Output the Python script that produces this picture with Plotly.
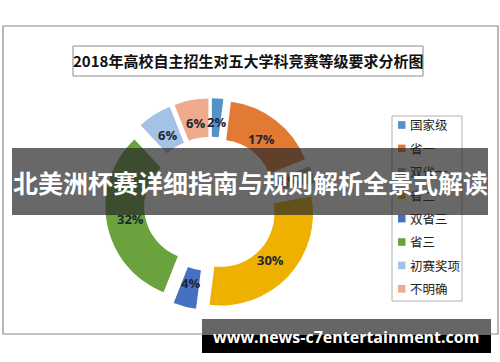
import math
import plotly.graph_objects as go

# ---- data ----
title_text = "2018年高校自主招生对五大学科竞赛等级要求分析图"
labels = ["国家级", "省一", "双省一", "省二", "双省三", "省三", "初赛奖项", "不明确"]
values = [2, 17, 3, 30, 4, 32, 6, 6]
colors = ["#5592c6", "#e37a33", "#a5a5a5", "#eeb100", "#4670c0", "#6aa33e", "#a4c2e6", "#f0aa8e"]
banner_text = "北美洲杯赛详细指南与规则解析全景式解读"
watermark_text = "www.news-c7entertainment.com"

W, H = 500, 362

def px(x):
    return x / W

def py(y):
    return 1 - y / H

# ---- layout constants (pixels) ----
cx, cy = 211, 204
r_out = 92
pull = 0.15
hole = 0.58
ext = r_out * (1 + pull)
label_r = 82

fig = go.Figure()
fig.add_trace(go.Pie(
    labels=labels, values=values, hole=hole, pull=pull, sort=False,
    direction="clockwise", rotation=0,
    marker=dict(colors=colors, line=dict(width=0)),
    textinfo="none", hoverinfo="label+percent", showlegend=False,
    domain=dict(x=[px(cx - ext), px(cx + ext)], y=[py(cy + ext), py(cy - ext)]),
))

shapes = []
annotations = []

# outer chart frame
shapes.append(dict(type="rect", xref="paper", yref="paper", x0=px(3), x1=px(498), y0=py(334), y1=py(26),
                   line=dict(color="#8a8a8a", width=1.2), fillcolor="rgba(0,0,0,0)", layer="below"))
# title box
shapes.append(dict(type="rect", xref="paper", yref="paper", x0=px(73), x1=px(423), y0=py(76), y1=py(46),
                   line=dict(color="#8a8a8a", width=1), fillcolor="white", layer="below"))
annotations.append(dict(text="<b>" + title_text + "</b>", x=px(248), y=py(61), xref="paper", yref="paper",
                        showarrow=False, font=dict(size=15, color="#111", family="Noto Sans CJK SC"),
                        xanchor="center", yanchor="middle"))

# percentage labels computed from data
total = sum(values)
cum = 0
for v in values:
    mid = (cum + v / 2) / total * 2 * math.pi
    cum += v
    d = label_r
    lx = cx + d * math.sin(mid)
    ly = cy - d * math.cos(mid)
    annotations.append(dict(text="<b>%d%%</b>" % round(v / total * 100), x=px(lx), y=py(ly),
                            xref="paper", yref="paper", showarrow=False,
                            font=dict(size=13, color="#1d2633", family="Open Sans"),
                            xanchor="center", yanchor="middle"))

# legend (manual)
shapes.append(dict(type="rect", xref="paper", yref="paper", x0=px(392), x1=px(462), y0=py(301), y1=py(116),
                   line=dict(color="#b0b0b0", width=1), fillcolor="white", layer="below"))
leg_y0, leg_dy = 125, 23.4
for i, (lab, col) in enumerate(zip(labels, colors)):
    yy = leg_y0 + i * leg_dy
    shapes.append(dict(type="rect", xref="paper", yref="paper", x0=px(398), x1=px(405.5),
                       y0=py(yy + 3.8), y1=py(yy - 3.8), line=dict(width=0), fillcolor=col))
    annotations.append(dict(text=lab, x=px(408), y=py(yy), xref="paper", yref="paper", showarrow=False,
                            font=dict(size=12.5, color="#222", family="Noto Sans CJK SC"),
                            xanchor="left", yanchor="middle"))

# banner overlay
shapes.append(dict(type="rect", xref="paper", yref="paper", x0=px(12), x1=px(488), y0=py(215), y1=py(148),
                   line=dict(width=0), fillcolor="rgba(40,40,40,0.70)", layer="above"))
annotations.append(dict(text="<b>" + banner_text + "</b>", x=px(250), y=py(182), xref="paper", yref="paper",
                        showarrow=False, font=dict(size=25, color="white", family="Noto Sans CJK SC"),
                        xanchor="center", yanchor="middle"))

# watermark
shapes.append(dict(type="rect", xref="paper", yref="paper", x0=px(202), x1=px(491), y0=py(335), y1=py(319),
                   line=dict(width=0), fillcolor="#666666", layer="above"))
shapes.append(dict(type="rect", xref="paper", yref="paper", x0=px(202), x1=px(491), y0=py(353), y1=py(335),
                   line=dict(width=0), fillcolor="#000000", layer="above"))
annotations.append(dict(text="<b>" + watermark_text + "</b>", x=px(346), y=py(337), xref="paper", yref="paper",
                        showarrow=False, font=dict(size=16, color="white", family="Open Sans"),
                        xanchor="center", yanchor="middle"))

fig.update_layout(
    width=W, height=H, margin=dict(l=0, r=0, t=0, b=0),
    paper_bgcolor="white", plot_bgcolor="white",
    shapes=shapes, annotations=annotations,
)

fig.write_html("out.html", config={"displayModeBar": False},
               post_script="document.body.style.margin='0';document.body.style.overflow='hidden';")
